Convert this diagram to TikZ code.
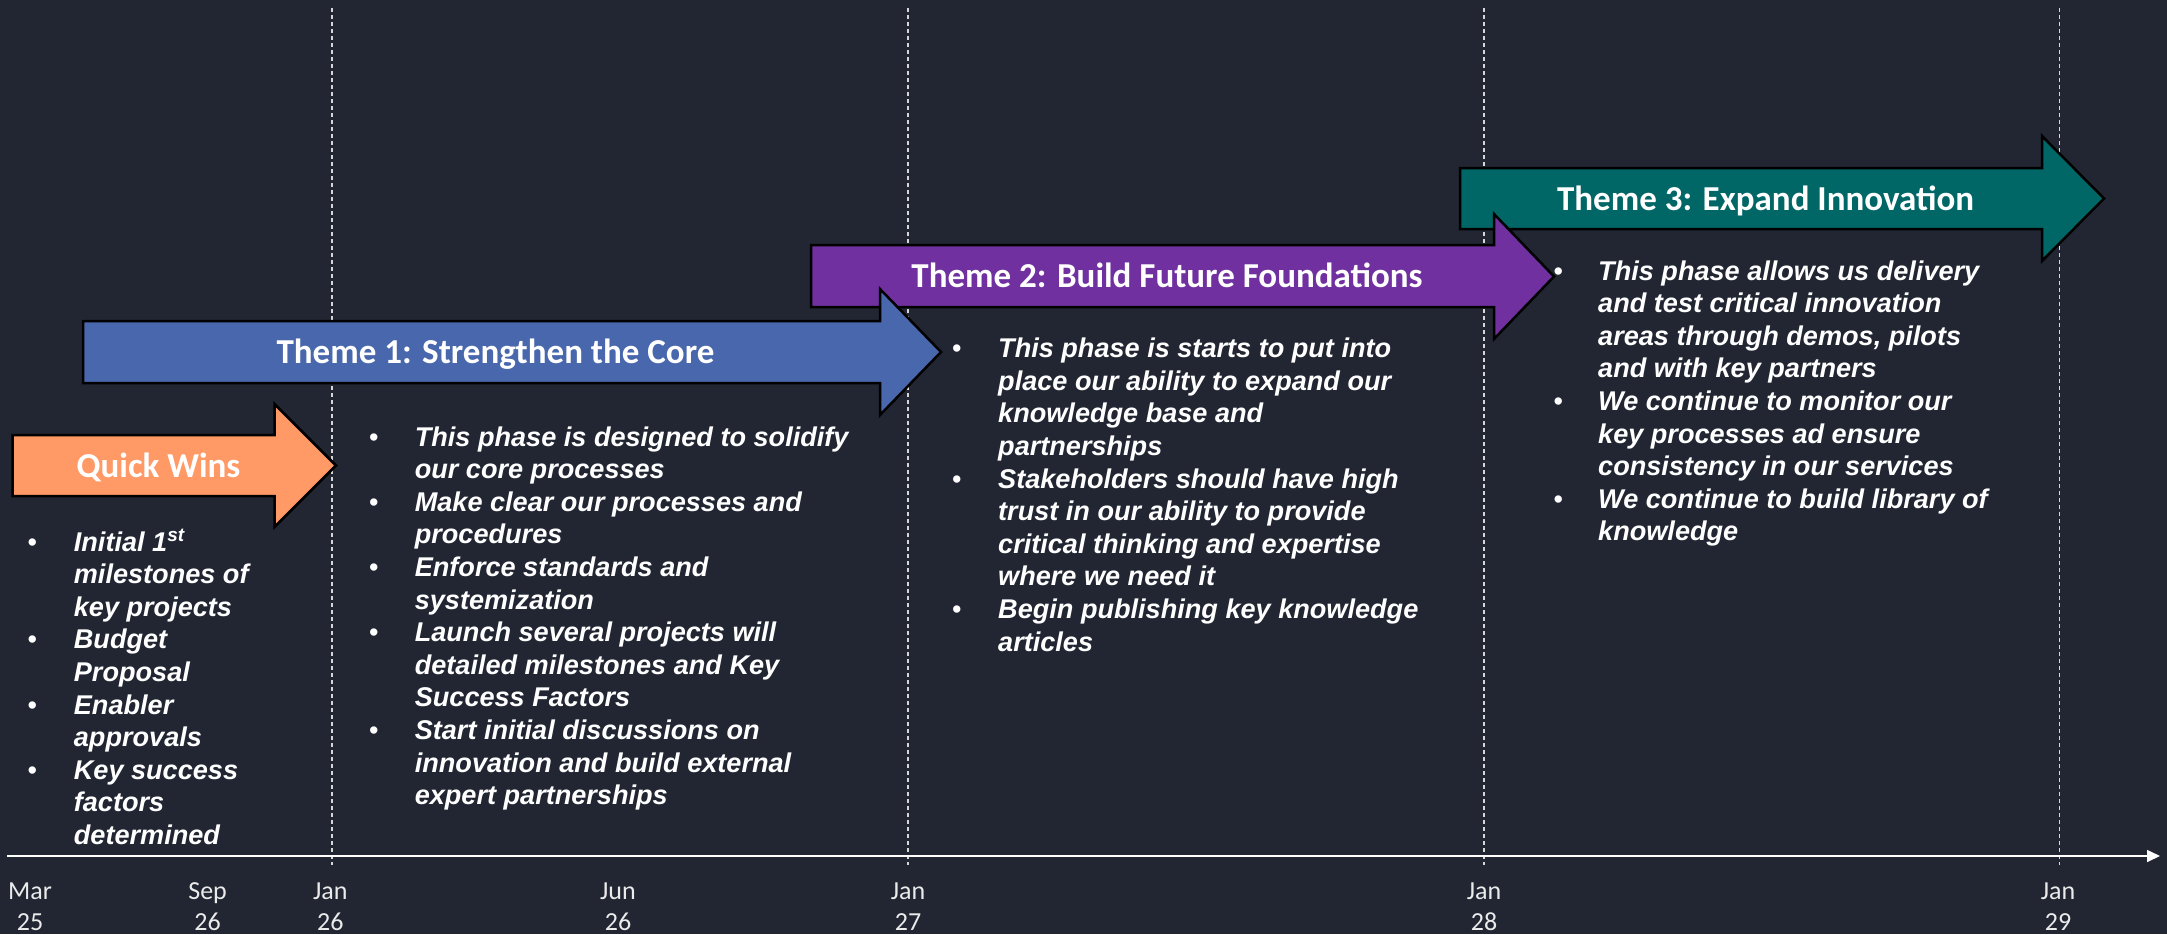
\documentclass[tikz,border=0pt]{standalone}
\usepackage{fontspec}
\setmainfont{Liberation Sans}
\newfontfamily\calfont{Carlito}
\usetikzlibrary{arrows.meta}
\definecolor{bgc}{RGB}{33,38,50}
\definecolor{qwc}{RGB}{255,153,102}
\definecolor{t1c}{RGB}{73,103,172}
\definecolor{t2c}{RGB}{112,48,160}
\definecolor{t3c}{RGB}{0,102,102}
\definecolor{dashc}{RGB}{215,215,215}
\definecolor{lblc}{RGB}{235,235,235}
\newcommand{\bl}{{\mdseries\upshape\textbullet}}
\tikzset{
 phasearrow/.style={draw=black, line width=2.5pt, line join=miter},
 titletxt/.style={inner sep=0pt, text=white, font=\calfont\bfseries\fontsize{35}{42}\selectfont, anchor=base},
 listtxt/.style={inner sep=0pt, text=white, font=\fontsize{27.1}{32.6}\selectfont\bfseries\itshape, anchor=base west},
 axlbl/.style={inner sep=0pt, text=lblc, font=\calfont\fontsize{26}{31}\selectfont, anchor=base},
 gridline/.style={draw=dashc, line width=1.3pt, dash pattern=on 4pt off 3pt},
 axisline/.style={draw=white, line width=1.5pt, -{Triangle[length=13pt,width=12pt]}},
}
\begin{document}
\begin{tikzpicture}[x=1pt,y=-1pt]
\useasboundingbox (0,0) rectangle (2167,934);
\fill[bgc] (0,0) rectangle (2167,934);
% grid lines
\foreach \gx [count=\i] in {332,908,1484,2059.5}{
  \coordinate (gt\i) at (\gx,8);
  \coordinate (gb\i) at (\gx,865);
  \draw[gridline] (gt\i) -- (gb\i);
}
% axis
\coordinate (axs) at (7,856);
\coordinate (axe) at (2160,856);
\draw[axisline] (axs) -- (axe);
% axis labels
\foreach \lx/\mo/\yr [count=\i] in {30/Mar/25, 207.6/Sep/26, 330.4/Jan/26, 618/Jun/26, 908/Jan/27, 1484/Jan/28, 2058/Jan/29}{
  \node[axlbl] (lbl\i) at (\lx,899) {\begin{tabular}[t]{@{}c@{}}\mo\\\yr\end{tabular}};
}
% Theme 3
\path[phasearrow, fill=t3c] (1460,168) -- (2042,168) -- (2042,136) -- (2104,198.5) -- (2042,261) -- (2042,229) -- (1460,229) -- cycle;
\node[titletxt] (t3) at (1765.6,210) {Theme 3: Expand Innovation};
% Theme 2
\path[phasearrow, fill=t2c] (811,245) -- (1494,245) -- (1494,214) -- (1554,276.5) -- (1494,339) -- (1494,307) -- (811,307) -- cycle;
\node[titletxt] (t2) at (1167,287.5) {Theme 2: Build Future Foundations};
% Theme 1
\path[phasearrow, fill=t1c] (83,321) -- (880,321) -- (880,289) -- (941,352) -- (880,415) -- (880,383) -- (83,383) -- cycle;
\node[titletxt] (t1) at (495.5,363.5) {Theme 1: Strengthen the Core};
% Quick Wins
\path[phasearrow, fill=qwc] (12.5,435) -- (274.5,435) -- (274.5,404) -- (336,465.5) -- (274.5,527) -- (274.5,496) -- (12.5,496) -- cycle;
\node[titletxt] (qw) at (158.5,477) {Quick Wins};
% lists
\node[listtxt] (qwlist) at (27.3,551) {\begin{tabular}[t]{@{}p{46.4pt}@{}l@{}}
\bl & Initial 1\smash{\textsuperscript{st}}\\
 & milestones of\\
 & key projects\\
\bl & Budget\\
 & Proposal\\
\bl & Enabler\\
 & approvals\\
\bl & Key success\\
 & factors\\
 & determined
\end{tabular}};
\node[listtxt] (t1list) at (369,446) {\begin{tabular}[t]{@{}p{45.6pt}@{}l@{}}
\bl & This phase is designed to solidify\\
 & our core processes\\
\bl & Make clear our processes and\\
 & procedures\\
\bl & Enforce standards and\\
 & systemization\\
\bl & Launch several projects will\\
 & detailed milestones and Key\\
 & Success Factors\\
\bl & Start initial discussions on\\
 & innovation and build external\\
 & expert partnerships
\end{tabular}};
\node[listtxt] (t2list) at (952,357.7) {\begin{tabular}[t]{@{}p{46pt}@{}l@{}}
\bl & This phase is starts to put into\\
 & place our ability to expand our\\
 & knowledge base and\\
 & partnerships\\
\bl & Stakeholders should have high\\
 & trust in our ability to provide\\
 & critical thinking and expertise\\
 & where we need it\\
\bl & Begin publishing key knowledge\\
 & articles
\end{tabular}};
\node[listtxt] (t3list) at (1553.3,280) {\begin{tabular}[t]{@{}p{44.7pt}@{}l@{}}
\bl & This phase allows us delivery\\
 & and test critical innovation\\
 & areas through demos, pilots\\
 & and with key partners\\
\bl & We continue to monitor our\\
 & key processes ad ensure\\
 & consistency in our services\\
\bl & We continue to build library of\\
 & knowledge
\end{tabular}};
\end{tikzpicture}
\end{document}
